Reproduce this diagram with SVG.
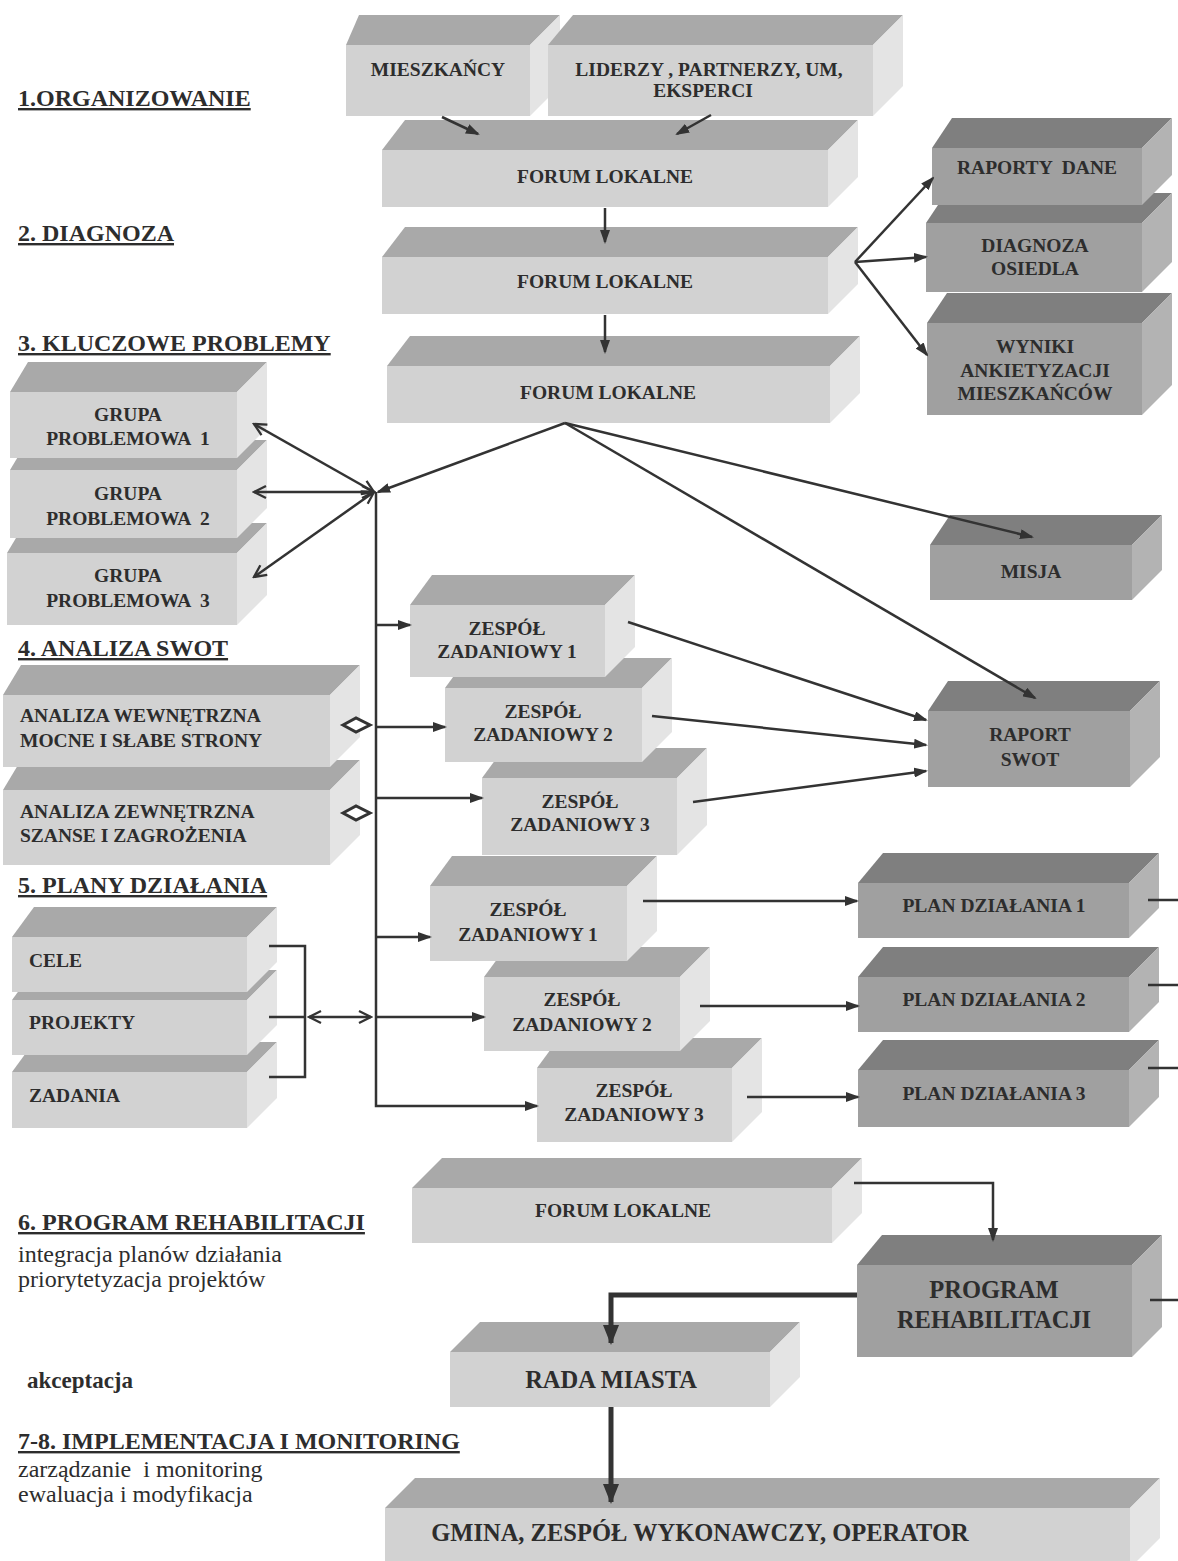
<svg xmlns="http://www.w3.org/2000/svg" width="1178" height="1561" viewBox="0 0 1178 1561">
<style>
.lf{fill:#d2d2d2}.lt{fill:#a9a9a9}.ls{fill:#e4e4e4}
.df{fill:#a0a0a0}.dt{fill:#7f7f7f}.ds{fill:#b3b3b3}
.t{font-family:"Liberation Serif","Times New Roman",serif;font-weight:bold;font-size:19.5px;fill:#2d2d2d;text-anchor:middle}
.tl{font-family:"Liberation Serif","Times New Roman",serif;font-weight:bold;font-size:19.5px;fill:#2d2d2d;text-anchor:start}
.big{font-size:24.5px}
.h{font-family:"Liberation Serif","Times New Roman",serif;font-weight:bold;font-size:24px;fill:#2d2d2d;text-decoration:underline}
.n{font-family:"Liberation Serif","Times New Roman",serif;font-size:24px;fill:#2d2d2d}
.hb{font-family:"Liberation Serif","Times New Roman",serif;font-weight:bold;font-size:23px;fill:#2d2d2d}
.c{fill:none;stroke:#333;stroke-width:2.5}
.ck{fill:none;stroke:#333;stroke-width:5}
</style>
<defs>
<marker id="ah" viewBox="0 0 14 10" refX="12" refY="5" markerWidth="14" markerHeight="10" markerUnits="userSpaceOnUse" orient="auto"><path d="M0,0 L14,5 L0,10 z" fill="#333"/></marker>
<marker id="oh" viewBox="0 0 16 16" refX="14" refY="8" markerWidth="16" markerHeight="16" markerUnits="userSpaceOnUse" orient="auto-start-reverse"><path d="M2,2 L14,8 L2,14" fill="none" stroke="#333" stroke-width="2.3"/></marker>
<marker id="ahb" viewBox="0 0 20 16" refX="18" refY="8" markerWidth="20" markerHeight="16" markerUnits="userSpaceOnUse" orient="auto"><path d="M0,0 L20,8 L0,16 z" fill="#333"/></marker>
</defs>

<g id="labels">
<text class="h" x="18" y="106">1.ORGANIZOWANIE</text>
<text class="h" x="18" y="241">2. DIAGNOZA</text>
<text class="h" x="18" y="351">3. KLUCZOWE PROBLEMY</text>
<text class="h" x="18" y="656">4. ANALIZA SWOT</text>
<text class="h" x="18" y="893">5. PLANY DZIAŁANIA</text>
<text class="h" x="18" y="1230">6. PROGRAM REHABILITACJI</text>
<text class="n" x="18" y="1262">integracja planów działania</text>
<text class="n" x="18" y="1287">priorytetyzacja projektów</text>
<text class="hb" x="27" y="1388">akceptacja</text>
<text class="h" x="18" y="1449">7-8. IMPLEMENTACJA I MONITORING</text>
<text class="n" x="18" y="1477" xml:space="preserve">zarządzanie  i monitoring</text>
<text class="n" x="18" y="1502">ewaluacja i modyfikacja</text>
</g>

<g id="mieszkancy">
<polygon class="lt" points="346,45 359,15 560,15 530,45"/>
<polygon class="ls" points="530,45 560,15 560,86 530,116"/>
<rect class="lf" x="346" y="45" width="184" height="71"/>
<text class="t" x="438" y="76">MIESZKAŃCY</text>
</g>
<g id="liderzy">
<polygon class="lt" points="548,45 573,15 903,15 873,45"/>
<polygon class="ls" points="873,45 903,15 903,86 873,116"/>
<rect class="lf" x="548" y="45" width="325" height="71"/>
<text class="t" x="709" y="76">LIDERZY , PARTNERZY, UM,</text>
<text class="t" x="703" y="97">EKSPERCI</text>
</g>
<g id="forum1">
<polygon class="lt" points="382,150 405,120 858,120 828,150"/>
<polygon class="ls" points="828,150 858,120 858,177 828,207"/>
<rect class="lf" x="382" y="150" width="446" height="57"/>
<text class="t" x="605" y="183">FORUM LOKALNE</text>
</g>
<g id="forum2">
<polygon class="lt" points="382,257 405,227 858,227 828,257"/>
<polygon class="ls" points="828,257 858,227 858,284 828,314"/>
<rect class="lf" x="382" y="257" width="446" height="57"/>
<text class="t" x="605" y="288">FORUM LOKALNE</text>
</g>
<g id="forum3">
<polygon class="lt" points="387,366 410,336 860,336 830,366"/>
<polygon class="ls" points="830,366 860,336 860,393 830,423"/>
<rect class="lf" x="387" y="366" width="443" height="57"/>
<text class="t" x="608" y="399">FORUM LOKALNE</text>
</g>

<g id="wyniki">
<polygon class="dt" points="927,323 947,293 1172,293 1142,323"/>
<polygon class="ds" points="1142,323 1172,293 1172,385 1142,415"/>
<rect class="df" x="927" y="323" width="215" height="92"/>
<text class="t" x="1035" y="353">WYNIKI</text>
<text class="t" x="1035" y="377">ANKIETYZACJI</text>
<text class="t" x="1035" y="400">MIESZKAŃCÓW</text>
</g>
<g id="diagnoza">
<polygon class="dt" points="926,223 946,193 1172,193 1142,223"/>
<polygon class="ds" points="1142,223 1172,193 1172,262 1142,292"/>
<rect class="df" x="926" y="223" width="216" height="69"/>
<text class="t" x="1035" y="252">DIAGNOZA</text>
<text class="t" x="1035" y="275">OSIEDLA</text>
</g>
<g id="raporty">
<polygon class="dt" points="932,148 952,118 1172,118 1142,148"/>
<polygon class="ds" points="1142,148 1172,118 1172,175 1142,205"/>
<rect class="df" x="932" y="148" width="210" height="57"/>
<text class="t" x="1037" y="174" xml:space="preserve">RAPORTY  DANE</text>
</g>
<g id="misja">
<polygon class="dt" points="930,545 950,515 1162,515 1132,545"/>
<polygon class="ds" points="1132,545 1162,515 1162,570 1132,600"/>
<rect class="df" x="930" y="545" width="202" height="55"/>
<text class="t" x="1031" y="578">MISJA</text>
</g>
<g id="raport-swot">
<polygon class="dt" points="928,711 948,681 1160,681 1130,711"/>
<polygon class="ds" points="1130,711 1160,681 1160,757 1130,787"/>
<rect class="df" x="928" y="711" width="202" height="76"/>
<text class="t" x="1030" y="741">RAPORT</text>
<text class="t" x="1030" y="766">SWOT</text>
</g>

<g id="grupa3">
<polygon class="lt" points="7,553 25,523 267,523 237,553"/>
<polygon class="ls" points="237,553 267,523 267,595 237,625"/>
<rect class="lf" x="7" y="553" width="230" height="72"/>
<text class="t" x="128" y="582">GRUPA</text>
<text class="t" x="128" y="607" xml:space="preserve">PROBLEMOWA  3</text>
</g>
<g id="grupa2">
<polygon class="lt" points="10,470 28,440 267,440 237,470"/>
<polygon class="ls" points="237,470 267,440 267,508 237,538"/>
<rect class="lf" x="10" y="470" width="227" height="68"/>
<text class="t" x="128" y="500">GRUPA</text>
<text class="t" x="128" y="525" xml:space="preserve">PROBLEMOWA  2</text>
</g>
<g id="grupa1">
<polygon class="lt" points="10,392 28,362 267,362 237,392"/>
<polygon class="ls" points="237,392 267,362 267,428 237,458"/>
<rect class="lf" x="10" y="392" width="227" height="66"/>
<text class="t" x="128" y="421">GRUPA</text>
<text class="t" x="128" y="445" xml:space="preserve">PROBLEMOWA  1</text>
</g>

<g id="analiza-z">
<polygon class="lt" points="3,790 21,760 360,760 330,790"/>
<polygon class="ls" points="330,790 360,760 360,835 330,865"/>
<rect class="lf" x="3" y="790" width="327" height="75"/>
<text class="tl" x="20" y="818">ANALIZA ZEWNĘTRZNA</text>
<text class="tl" x="20" y="842">SZANSE I ZAGROŻENIA</text>
</g>
<g id="analiza-w">
<polygon class="lt" points="3,695 21,665 360,665 330,695"/>
<polygon class="ls" points="330,695 360,665 360,737 330,767"/>
<rect class="lf" x="3" y="695" width="327" height="72"/>
<text class="tl" x="20" y="722">ANALIZA WEWNĘTRZNA</text>
<text class="tl" x="20" y="747">MOCNE I SŁABE STRONY</text>
</g>

<g id="zadania">
<polygon class="lt" points="12,1072 34,1042 277,1042 247,1072"/>
<polygon class="ls" points="247,1072 277,1042 277,1098 247,1128"/>
<rect class="lf" x="12" y="1072" width="235" height="56"/>
<text class="tl" x="29" y="1102">ZADANIA</text>
</g>
<g id="projekty">
<polygon class="lt" points="12,1000 34,970 277,970 247,1000"/>
<polygon class="ls" points="247,1000 277,970 277,1025 247,1055"/>
<rect class="lf" x="12" y="1000" width="235" height="55"/>
<text class="tl" x="29" y="1029">PROJEKTY</text>
</g>
<g id="cele">
<polygon class="lt" points="12,937 34,907 277,907 247,937"/>
<polygon class="ls" points="247,937 277,907 277,962 247,992"/>
<rect class="lf" x="12" y="937" width="235" height="55"/>
<text class="tl" x="29" y="967">CELE</text>
</g>

<g id="zespol-a3">
<polygon class="lt" points="482,778 504,748 707,748 677,778"/>
<polygon class="ls" points="677,778 707,748 707,825 677,855"/>
<rect class="lf" x="482" y="778" width="195" height="77"/>
<text class="t" x="580" y="808">ZESPÓŁ</text>
<text class="t" x="580" y="831">ZADANIOWY 3</text>
</g>
<g id="zespol-a2">
<polygon class="lt" points="445,688 467,658 672,658 642,688"/>
<polygon class="ls" points="642,688 672,658 672,732 642,762"/>
<rect class="lf" x="445" y="688" width="197" height="74"/>
<text class="t" x="543" y="718">ZESPÓŁ</text>
<text class="t" x="543" y="741">ZADANIOWY 2</text>
</g>
<g id="zespol-a1">
<polygon class="lt" points="410,605 432,575 635,575 605,605"/>
<polygon class="ls" points="605,605 635,575 635,647 605,677"/>
<rect class="lf" x="410" y="605" width="195" height="72"/>
<text class="t" x="507" y="635">ZESPÓŁ</text>
<text class="t" x="507" y="658">ZADANIOWY 1</text>
</g>

<g id="zespol-b3">
<polygon class="lt" points="537,1068 559,1038 762,1038 732,1068"/>
<polygon class="ls" points="732,1068 762,1038 762,1112 732,1142"/>
<rect class="lf" x="537" y="1068" width="195" height="74"/>
<text class="t" x="634" y="1097">ZESPÓŁ</text>
<text class="t" x="634" y="1121">ZADANIOWY 3</text>
</g>
<g id="zespol-b2">
<polygon class="lt" points="484,977 506,947 710,947 680,977"/>
<polygon class="ls" points="680,977 710,947 710,1021 680,1051"/>
<rect class="lf" x="484" y="977" width="196" height="74"/>
<text class="t" x="582" y="1006">ZESPÓŁ</text>
<text class="t" x="582" y="1031">ZADANIOWY 2</text>
</g>
<g id="zespol-b1">
<polygon class="lt" points="430,886 452,856 657,856 627,886"/>
<polygon class="ls" points="627,886 657,856 657,931 627,961"/>
<rect class="lf" x="430" y="886" width="197" height="75"/>
<text class="t" x="528" y="916">ZESPÓŁ</text>
<text class="t" x="528" y="941">ZADANIOWY 1</text>
</g>

<g id="plan3">
<polygon class="dt" points="858,1070 883,1040 1159,1040 1129,1070"/>
<polygon class="ds" points="1129,1070 1159,1040 1159,1097 1129,1127"/>
<rect class="df" x="858" y="1070" width="271" height="57"/>
<text class="t" x="994" y="1100">PLAN DZIAŁANIA 3</text>
</g>
<g id="plan2">
<polygon class="dt" points="858,977 883,947 1159,947 1129,977"/>
<polygon class="ds" points="1129,977 1159,947 1159,1002 1129,1032"/>
<rect class="df" x="858" y="977" width="271" height="55"/>
<text class="t" x="994" y="1006">PLAN DZIAŁANIA 2</text>
</g>
<g id="plan1">
<polygon class="dt" points="858,883 883,853 1159,853 1129,883"/>
<polygon class="ds" points="1129,883 1159,853 1159,908 1129,938"/>
<rect class="df" x="858" y="883" width="271" height="55"/>
<text class="t" x="994" y="912">PLAN DZIAŁANIA 1</text>
</g>

<g id="forum4">
<polygon class="lt" points="412,1188 442,1158 862,1158 832,1188"/>
<polygon class="ls" points="832,1188 862,1158 862,1213 832,1243"/>
<rect class="lf" x="412" y="1188" width="420" height="55"/>
<text class="t" x="623" y="1217">FORUM LOKALNE</text>
</g>
<g id="program">
<polygon class="dt" points="857,1265 882,1235 1162,1235 1132,1265"/>
<polygon class="ds" points="1132,1265 1162,1235 1162,1327 1132,1357"/>
<rect class="df" x="857" y="1265" width="275" height="92"/>
<text class="t big" x="994" y="1298">PROGRAM</text>
<text class="t big" x="994" y="1328">REHABILITACJI</text>
</g>
<g id="rada">
<polygon class="lt" points="450,1352 480,1322 800,1322 770,1352"/>
<polygon class="ls" points="770,1352 800,1322 800,1377 770,1407"/>
<rect class="lf" x="450" y="1352" width="320" height="55"/>
<text class="t big" x="611" y="1388">RADA MIASTA</text>
</g>
<g id="gmina">
<polygon class="lt" points="385,1508 415,1478 1160,1478 1130,1508"/>
<polygon class="ls" points="1130,1508 1160,1478 1160,1538 1130,1568"/>
<rect class="lf" x="385" y="1508" width="745" height="60"/>
<text class="t big" x="700" y="1541">GMINA, ZESPÓŁ WYKONAWCZY, OPERATOR</text>
</g>

<g id="connectors">
<line class="c" x1="442" y1="117" x2="478" y2="134" marker-end="url(#ah)"/>
<line class="c" x1="711" y1="115" x2="677" y2="134" marker-end="url(#ah)"/>
<line class="c" x1="605" y1="208" x2="605" y2="242" marker-end="url(#ah)"/>
<line class="c" x1="605" y1="315" x2="605" y2="352" marker-end="url(#ah)"/>
<line class="c" x1="855" y1="262" x2="933" y2="178" marker-end="url(#ah)"/>
<line class="c" x1="855" y1="262" x2="926" y2="257" marker-end="url(#ah)"/>
<line class="c" x1="855" y1="262" x2="927" y2="355" marker-end="url(#ah)"/>
<line class="c" x1="565" y1="423" x2="378" y2="492" marker-end="url(#ah)"/>
<line class="c" x1="565" y1="423" x2="1032" y2="537" marker-end="url(#ah)"/>
<line class="c" x1="565" y1="423" x2="1035" y2="698" marker-end="url(#ah)"/>
<line class="c" x1="374" y1="492" x2="254" y2="424" marker-start="url(#oh)" marker-end="url(#oh)"/>
<line class="c" x1="374" y1="492" x2="254" y2="492" marker-start="url(#oh)" marker-end="url(#oh)"/>
<line class="c" x1="374" y1="492" x2="254" y2="577" marker-start="url(#oh)" marker-end="url(#oh)"/>
<path class="c" d="M376,492 V1106 H537" marker-end="url(#ah)"/>
<line class="c" x1="376" y1="625" x2="410" y2="625" marker-end="url(#ah)"/>
<line class="c" x1="376" y1="727" x2="445" y2="727" marker-end="url(#ah)"/>
<line class="c" x1="376" y1="798" x2="482" y2="798" marker-end="url(#ah)"/>
<line class="c" x1="376" y1="937" x2="430" y2="937" marker-end="url(#ah)"/>
<line class="c" x1="376" y1="1017" x2="484" y2="1017" marker-end="url(#ah)"/>
<polygon points="343,725 356,718 370,725 356,732" fill="#fff" stroke="#333" stroke-width="3"/>
<polygon points="343,813 356,806 370,813 356,820" fill="#fff" stroke="#333" stroke-width="3"/>
<path class="c" d="M269,946 H305 V1077 H269 M269,1017 H305"/>
<line class="c" x1="309" y1="1017" x2="371" y2="1017" marker-start="url(#oh)" marker-end="url(#oh)"/>
<line class="c" x1="628" y1="622" x2="926" y2="720" marker-end="url(#ah)"/>
<line class="c" x1="652" y1="716" x2="926" y2="745" marker-end="url(#ah)"/>
<line class="c" x1="693" y1="802" x2="926" y2="771" marker-end="url(#ah)"/>
<line class="c" x1="643" y1="901" x2="857" y2="901" marker-end="url(#ah)"/>
<line class="c" x1="700" y1="1006" x2="858" y2="1006" marker-end="url(#ah)"/>
<line class="c" x1="747" y1="1097" x2="858" y2="1097" marker-end="url(#ah)"/>
<line class="c" x1="1148" y1="900" x2="1178" y2="900"/>
<line class="c" x1="1148" y1="985" x2="1178" y2="985"/>
<line class="c" x1="1148" y1="1068" x2="1178" y2="1068"/>
<line class="c" x1="1150" y1="1300" x2="1178" y2="1300"/>
<path class="c" d="M854,1183 H993 V1240" marker-end="url(#ah)"/>
<path class="ck" d="M857,1295 H611 V1343" marker-end="url(#ahb)"/>
<path class="ck" d="M611,1407 V1502" marker-end="url(#ahb)"/>
</g>
</svg>
